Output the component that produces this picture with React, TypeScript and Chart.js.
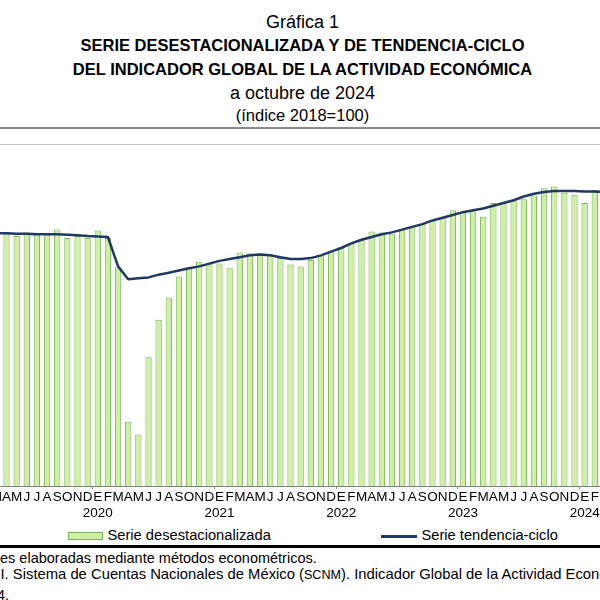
import React, { useEffect, useRef } from 'react';
import { Chart, registerables } from 'chart.js';

Chart.register(...registerables);

// Month initials (Spanish) and years shown on the x axis
const monthInitials = ['E', 'F', 'M', 'A', 'M', 'J', 'J', 'A', 'S', 'O', 'N', 'D'];
const years = ['2019', '2020', '2021', '2022', '2023', '2024'];
const lastMonthOfLastYear = 9; // octubre 2024

// Serie desestacionalizada (enero 2019 - octubre 2024); null = outside the visible crop
const serieDesestacionalizada: (number | null)[] = [
  // 2019
  null, null, null, 100.4, 100.2, 100.6, 100.5, 100.5, 100.9, 100.0, 100.2, 100.0,
  // 2020
  100.8, 100.0, 96.8, 80.0, 78.6, 87.0, 91.1, 93.5, 95.8, 96.8, 97.4, 97.2,
  // 2021
  97.2, 96.7, 98.4, 98.3, 98.3, 98.1, 97.8, 97.1, 96.9, 97.6, 98.0, 98.6,
  // 2022
  99.0, 99.4, 99.8, 100.7, 100.6, 100.4, 100.9, 101.3, 101.5, 101.9, 102.2, 103.0,
  // 2023
  102.8, 102.9, 102.3, 103.8, 103.8, 104.0, 104.2, 104.6, 105.4, 105.6, 104.9, 104.7,
  // 2024
  103.8, 105.2, null, null, null, null, null, null, null, null,
];

// Serie tendencia-ciclo
const serieTendencia: (number | null)[] = [
  // 2019
  null, null, 100.5, 100.5, 100.45, 100.45, 100.4, 100.4, 100.4, 100.35, 100.3, 100.2,
  // 2020
  100.15, 100.1, 96.9, 95.5, 95.6, 95.7, 96.0, 96.2, 96.45, 96.7, 96.9, 97.2,
  // 2021
  97.5, 97.7, 97.9, 98.1, 98.2, 98.1, 97.9, 97.7, 97.7, 97.8, 98.1, 98.5,
  // 2022
  98.9, 99.4, 99.8, 100.1, 100.4, 100.6, 100.9, 101.2, 101.5, 101.9, 102.2, 102.5,
  // 2023
  102.8, 103.0, 103.2, 103.5, 103.8, 104.1, 104.5, 104.8, 105.0, 105.1, 105.1, 105.1,
  // 2024
  105.05, 105.05, 105.0, null, null, null, null, null, null, null,
];

const yMin = 73;
const yMax = 110;

const labels: (string | string[])[] = [];
years.forEach((y, yi) => {
  monthInitials.forEach((m, mi) => {
    if (yi === years.length - 1 && mi > lastMonthOfLastYear) return;
    labels.push(mi === 0 ? [m, y] : m);
  });
});

const FONT = '"Liberation Sans", Arial, Helvetica, sans-serif';
const GREEN_FILL = '#cdf0a5';
const GREEN_BORDER = '#76b356';
const NAVY = '#1f3864';

function Line({ top, children, size, bold }: { top: number; children: React.ReactNode; size: number; bold?: boolean }) {
  return (
    <div
      style={{
        position: 'absolute',
        top,
        left: 0,
        width: 605,
        textAlign: 'center',
        fontSize: size,
        lineHeight: `${size}px`,
        fontWeight: bold ? 'bold' : 'normal',
        whiteSpace: 'nowrap',
      }}
    >
      {children}
    </div>
  );
}

export default function App() {
  const canvasRef = useRef<HTMLCanvasElement>(null);

  useEffect(() => {
    if (!canvasRef.current) return;
    const chart = new Chart(canvasRef.current, {
      type: 'bar',
      data: {
        labels,
        datasets: [
          {
            type: 'line',
            label: 'Serie tendencia-ciclo',
            data: serieTendencia,
            borderColor: NAVY,
            borderWidth: 2.5,
            pointRadius: 0,
            tension: 0,
            fill: false,
            borderJoinStyle: 'round',
            order: 0,
          } as any,
          {
            type: 'bar',
            label: 'Serie desestacionalizada',
            data: serieDesestacionalizada,
            backgroundColor: GREEN_FILL,
            borderColor: GREEN_BORDER,
            borderWidth: 1,
            categoryPercentage: 1,
            barPercentage: 0.62,
            order: 1,
          } as any,
        ],
      },
      options: {
        animation: false,
        responsive: false,
        maintainAspectRatio: false,
        layout: { padding: { left: 30, right: 30, top: 10, bottom: 4 } },
        plugins: {
          legend: { display: false },
          tooltip: { enabled: false },
          title: { display: false },
        },
        scales: {
          x: {
            offset: true,
            grid: {
              display: true,
              offset: true,
              drawOnChartArea: false,
              drawTicks: true,
              tickLength: 3,
              color: (c: any) => (c.index % 12 === 0 ? '#808080' : 'rgba(0,0,0,0)'),
            },
            border: { display: true, color: '#808080', width: 1 },
            ticks: {
              autoSkip: false,
              maxRotation: 0,
              minRotation: 0,
              padding: 0,
              color: '#000',
              font: { family: FONT, size: 13.5, lineHeight: '16.5px' },
            },
          },
          y: { display: false, min: yMin, max: yMax },
        },
      } as any,
    });
    return () => chart.destroy();
  }, []);

  return (
    <div
      style={{
        position: 'fixed',
        left: 0,
        top: 0,
        width: 600,
        height: 600,
        overflow: 'hidden',
        background: '#fff',
        fontFamily: FONT,
        color: '#000',
      }}
    >
      <Line top={12.5} size={18}>Gráfica 1</Line>
      <Line top={36.5} size={16.5} bold>SERIE DESESTACIONALIZADA Y DE TENDENCIA-CICLO</Line>
      <Line top={61} size={16.5} bold>DEL INDICADOR GLOBAL DE LA ACTIVIDAD ECONÓMICA</Line>
      <Line top={84} size={18}>a octubre de 2024</Line>
      <Line top={106.7} size={16.5}>(índice 2018=100)</Line>

      <div style={{ position: 'absolute', left: 0, top: 127, width: 600, height: 2, background: '#8c8c8c' }} />
      <div style={{ position: 'absolute', left: 0, top: 144, width: 600, height: 1, background: '#c4c4c4' }} />

      <canvas
        ref={canvasRef}
        width={770}
        height={390}
        style={{ position: 'absolute', left: -59, top: 136, width: 770, height: 390 }}
      />

      {/* Leyenda */}
      <div
        style={{
          position: 'absolute',
          left: 68,
          top: 532,
          width: 35,
          height: 8,
          boxSizing: 'border-box',
          background: GREEN_FILL,
          border: `1px solid ${GREEN_BORDER}`,
        }}
      />
      <div style={{ position: 'absolute', left: 107.5, top: 528, fontSize: 14.7, lineHeight: '14.7px', whiteSpace: 'nowrap' }}>
        Serie desestacionalizada
      </div>
      <div style={{ position: 'absolute', left: 381, top: 535, width: 36, height: 3, background: NAVY }} />
      <div style={{ position: 'absolute', left: 421.5, top: 528, fontSize: 14.7, lineHeight: '14.7px', whiteSpace: 'nowrap' }}>
        Serie tendencia-ciclo
      </div>

      <div style={{ position: 'absolute', left: 0, top: 545, width: 600, height: 3, background: '#000' }} />

      {/* Notas */}
      <div style={{ position: 'absolute', left: 0, top: 551, fontSize: 14.5, lineHeight: '14.5px', whiteSpace: 'nowrap' }}>
        es elaboradas mediante métodos econométricos.
      </div>
      <div style={{ position: 'absolute', left: 0.5, top: 567, fontSize: 14.8, lineHeight: '14.8px', whiteSpace: 'nowrap' }}>
        I. Sistema de Cuentas Nacionales de México (<span style={{ fontSize: '0.85em' }}>SCNM</span>). Indicador Global de la Actividad Económica
      </div>
      <div style={{ position: 'absolute', left: -3, top: 588, fontSize: 14.5, lineHeight: '14.5px', whiteSpace: 'nowrap' }}>
        4.
      </div>
    </div>
  );
}
